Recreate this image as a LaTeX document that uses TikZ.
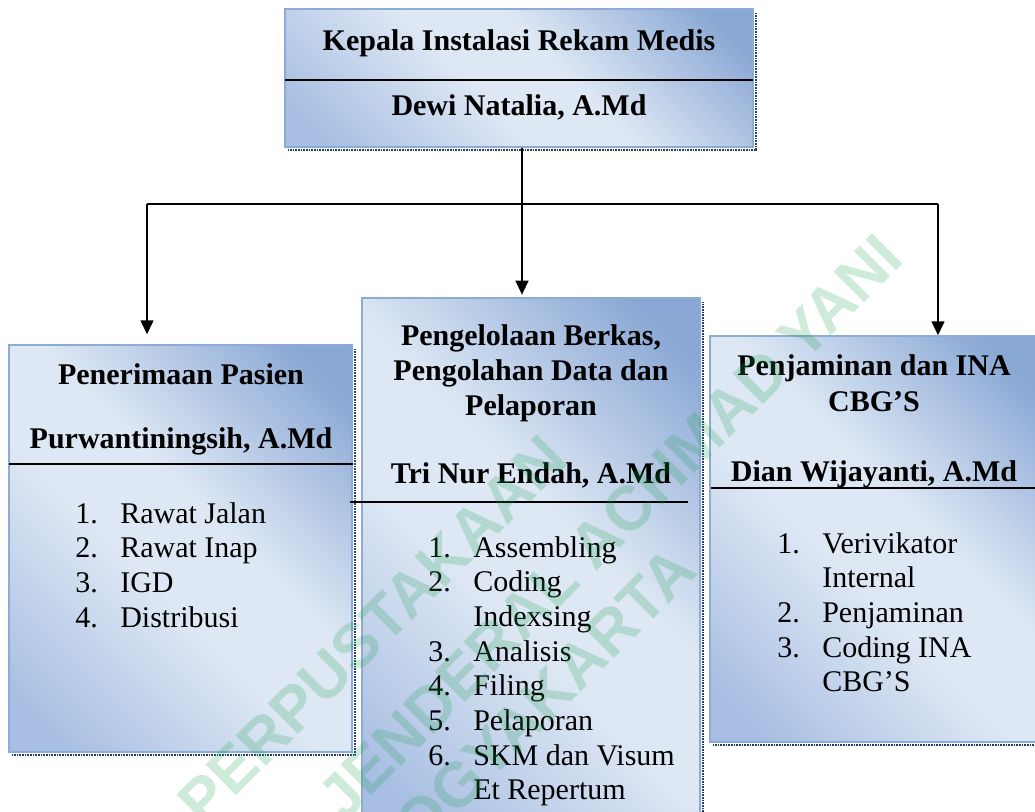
\documentclass[tikz,border=0pt]{standalone}
\usepackage{fontspec}
\setmainfont{Liberation Serif}
\newfontfamily\wmfont{Liberation Sans}
\usetikzlibrary{arrows.meta,fit,calc}
\definecolor{blight}{RGB}{222,232,244}
\definecolor{bmid}{RGB}{168,190,226}
\definecolor{bdark}{RGB}{138,168,213}
\definecolor{bborder}{RGB}{140,172,212}
\definecolor{shadecol}{RGB}{40,62,105}
\definecolor{wmgreen}{RGB}{30,160,80}
\pgfdeclarehorizontalshading{boxsh}{100bp}{color(0bp)=(bmid); color(20bp)=(bmid); color(44bp)=(blight); color(56bp)=(blight); color(80bp)=(bdark); color(100bp)=(bdark)}
\newcommand{\nm}[1]{\makebox[33.75pt][l]{#1}}
\begin{document}
\begin{tikzpicture}[x=0.75pt,y=-0.75pt,
  font=\fontsize{22.5}{26}\selectfont,
  box/.style={inner sep=0pt, draw=bborder, line width=1.1pt, shading=boxsh, shading angle=45},
  boxshadow/.style={draw=shadecol, line width=1.6pt, dash pattern=on 0.6pt off 0.6pt},
  divider/.style={draw=black, line width=1.3pt},
  hd/.style={font=\fontsize{22.5}{26}\selectfont\bfseries, anchor=base, inner sep=0pt},
  lst/.style={anchor=base west, inner sep=0pt},
  conn/.style={draw=black, line width=1.1pt},
  arr/.style={conn, -{Triangle[width=9.75pt,length=10.5pt]}},
  wm/.style={font=\wmfont\fontsize{47}{47}\selectfont\bfseries, text=wmgreen, text opacity=0.22, rotate=45, inner sep=0pt}
]
\useasboundingbox (0,0) rectangle (1035,811);
\clip (0,0) rectangle (1035,811);

% boxes
\node[box, fit={(285,9) (753,147)}] (top) {};
\node[box, fit={(9,345) (352,752)}] (left) {};
\node[box, fit={(362,298) (700,830)}] (mid) {};
\node[box, fit={(710,336) (1038,742)}] (right) {};

% shadows
\draw[boxshadow] ($(top.south west)+(4,2)$) -- ($(top.south east)+(2,2)$) -- ($(top.north east)+(2,5)$);
\draw[boxshadow] ($(left.south west)+(4,2)$) -- ($(left.south east)+(2,2)$) -- ($(left.north east)+(2,5)$);
\draw[boxshadow] ($(mid.south east)+(2,2)$) -- ($(mid.north east)+(2,5)$);
\draw[boxshadow] ($(right.south west)+(4,2)$) -- ($(right.south east)+(2,2)$);

% dividers
\draw[divider] (285,80) -- (753,80);
\draw[divider] (9,464) -- (353,464);
\draw[divider] (350,502) -- (688,502);
\draw[divider] (711,488) -- (1035,488);

% headings
\node[hd] (t1) at (519,50) {Kepala Instalasi Rekam Medis};
\node[hd] (t2) at (519,115) {Dewi Natalia, A.Md};
\node[hd] (l1) at (181,384) {Penerimaan Pasien};
\node[hd] (l2) at (181,448) {Purwantiningsih, A.Md};
\node[hd] (m1) at (531,345) {Pengelolaan Berkas,};
\node[hd] (m2) at (531,380) {Pengolahan Data dan};
\node[hd] (m3) at (531,415) {Pelaporan};
\node[hd] (m4) at (531,483) {Tri Nur Endah, A.Md};
\node[hd] (r1) at (874,375) {Penjaminan dan INA};
\node[hd] (r2) at (874,411) {CBG’S};
\node[hd] (r3) at (874,481) {Dian Wijayanti, A.Md};

% lists
\node[lst] (llist) at (75,523) {\begin{tabular}[t]{@{}l@{}}\nm{1.}Rawat Jalan\\ \nm{2.}Rawat Inap\\ \nm{3.}IGD\\ \nm{4.}Distribusi\end{tabular}};
\node[lst] (mlist) at (428,557) {\begin{tabular}[t]{@{}l@{}}\nm{1.}Assembling\\ \nm{2.}Coding\\ \nm{}Indexsing\\ \nm{3.}Analisis\\ \nm{4.}Filing\\ \nm{5.}Pelaporan\\ \nm{6.}SKM dan Visum\\ \nm{}Et Repertum\end{tabular}};
\node[lst] (rlist) at (777,553) {\begin{tabular}[t]{@{}l@{}}\nm{1.}Verivikator\\ \nm{}Internal\\ \nm{2.}Penjaminan\\ \nm{3.}Coding INA\\ \nm{}CBG’S\end{tabular}};

% connectors
\coordinate (jc) at (522,204);
\coordinate (jl) at (147,204);
\coordinate (jr) at (938,204);
\draw[conn] (top.south -| jc) -- (jc);
\draw[conn] (jl) -- (jr);
\draw[arr, shorten >=7.5pt] (jl) -- (jl |- left.north);
\draw[arr, shorten >=2pt] (jc) -- (jc |- mid.north);
\draw[arr] (jr) -- (jr |- right.north);

% watermark
\node[wm] (w1) at (372,630) {PERPUSTAKAAN};
\node[wm] (w2) at (610,527) {JENDERAL ACHMAD YANI};
\node[wm] (w3) at (530,712) {YOGYAKARTA};
\end{tikzpicture}
\end{document}
